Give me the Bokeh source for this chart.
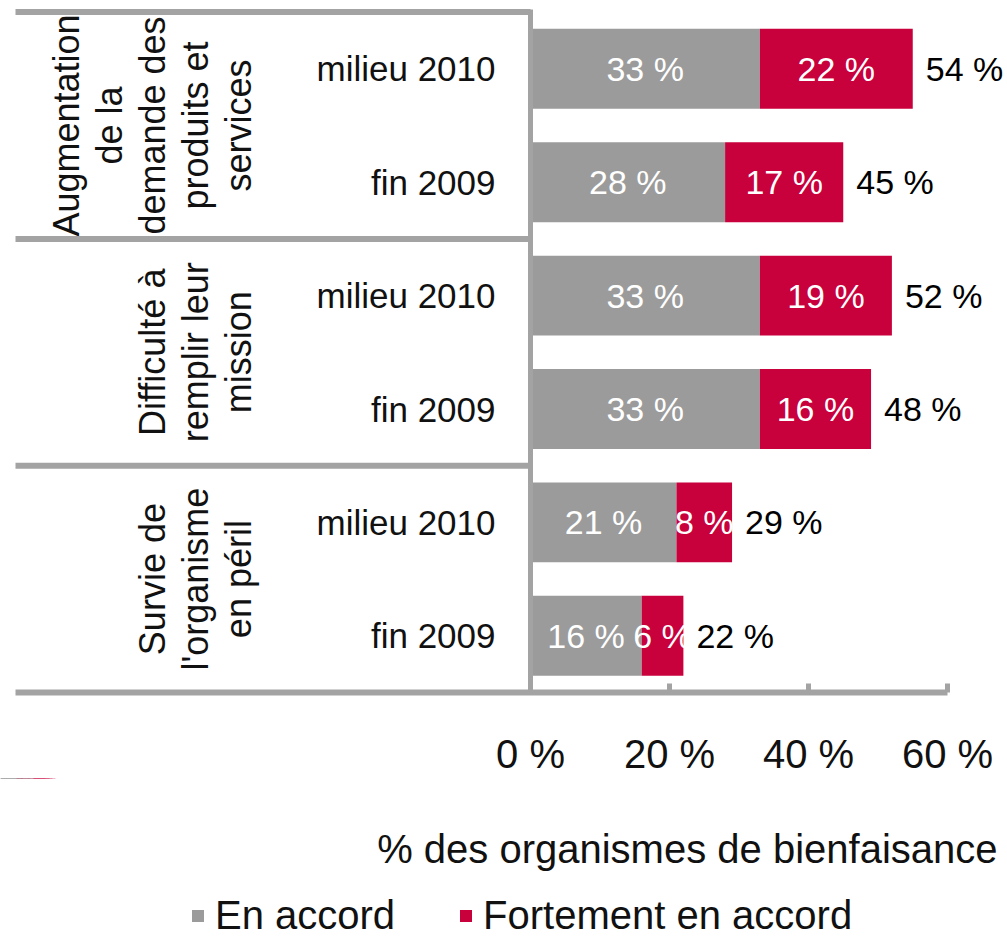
import math
from bokeh.plotting import figure
from bokeh.layouts import column
from bokeh.models import (Range1d, FixedTicker, LinearAxis, Legend, LegendItem,
                          ColumnDataSource)
from bokeh.core.properties import value
from bokeh.embed import file_html
from bokeh.resources import INLINE

# ---------------- data ----------------
group_labels = [
    ["Augmentation", "de la", "demande des", "produits et", "services"],
    ["Difficulté à", "remplir leur", "mission"],
    ["Survie de", "l'organisme", "en péril"],
]
periods = ["milieu 2010", "fin 2009", "milieu 2010", "fin 2009", "milieu 2010", "fin 2009"]
en_accord = [33, 28, 33, 33, 21, 16]
fortement = [22, 17, 19, 16, 8, 6]
total = [54, 45, 52, 48, 29, 22]
tick_values = [0, 20, 40, 60]
tick_labels = ["0 %", "20 %", "40 %", "60 %"]
series_names = ["En accord", "Fortement en accord"]
axis_title = "% des organismes de bienfaisance"

# ---------------- style / layout ----------------
FONT = "Liberation Sans"
GREY = "#9b9b9b"
LINE = "#a3a3a3"
RED = "#c8003c"
TXT = "#111111"
FRAME_W, FRAME_H = 1007, 692
PX_PER_PCT = 6.95
ZERO_PX = 530
n = len(periods)
slot_px = 113.4
x_start = -ZERO_PX / PX_PER_PCT
x_end = x_start + FRAME_W / PX_PER_PCT
y_bottom = n - 0.5
y_top = y_bottom - FRAME_H / slot_px
x_left_line = x_start + 15 / PX_PER_PCT

p = figure(frame_width=FRAME_W, frame_height=FRAME_H, output_backend="svg",
           toolbar_location=None, x_axis_type=None, y_axis_type=None,
           x_range=Range1d(x_start, x_end), y_range=Range1d(y_bottom, y_top),
           min_border=0)
p.outline_line_color = None

ys = list(range(n))
src = ColumnDataSource(dict(
    y=ys, en=en_accord, fo=fortement,
    end=[a + b for a, b in zip(en_accord, fortement)],
    mid_en=[a / 2 for a in en_accord],
    mid_fo=[a + b / 2 for a, b in zip(en_accord, fortement)],
    lab_en=[f"{v} %" for v in en_accord],
    lab_fo=[f"{v} %" for v in fortement],
    lab_tot=[f"{v} %" for v in total],
    period=periods,
))

p.hbar(y="y", left=0, right="en", height=0.705, fill_color=GREY,
       line_color=None, source=src)
p.hbar(y="y", left="en", right="end", height=0.705, fill_color=RED,
       line_color=None, source=src)

lbl_size = "34px"
p.text(x="mid_en", y="y", text="lab_en", source=src, text_color="white",
       text_align="center", text_baseline="middle", text_font=value(FONT),
       text_font_size=lbl_size)
p.text(x="mid_fo", y="y", text="lab_fo", source=src, text_color="white",
       text_align="center", text_baseline="middle", text_font=value(FONT),
       text_font_size=lbl_size)
p.text(x="end", y="y", text="lab_tot", source=src, text_color="black",
       x_offset=13, text_align="left", text_baseline="middle",
       text_font=value(FONT), text_font_size=lbl_size)
p.text(x=0, y="y", text="period", source=src, text_color=TXT,
       x_offset=-35, text_align="right", text_baseline="middle",
       text_font=value(FONT), text_font_size="35px")

# group labels (rotated, one glyph per line)
gx, gy, gt, goff = [], [], [], []
for g, lines in enumerate(group_labels):
    yc = 2 * g + 0.5
    k = len(lines)
    for i, t in enumerate(lines):
        gx.append(x_start)
        gy.append(yc)
        gt.append(t)
        goff.append(238 - (k - 1 - i) * 43)
gsrc = ColumnDataSource(dict(x=gx, y=gy, t=gt, off=goff))
p.text(x="x", y="y", text="t", x_offset="off", source=gsrc, angle=math.pi / 2,
       text_color=TXT, text_align="center", text_baseline="middle",
       text_font=value(FONT), text_font_size="36px")

# separators and vertical axis line
sep_y = [-0.5] + [2 * g + 1.5 for g in range(len(group_labels) - 1)]
p.segment(x0=[x_left_line] * len(sep_y), x1=[0] * len(sep_y), y0=sep_y, y1=sep_y,
          line_color=LINE, line_width=6)
p.segment(x0=[0], x1=[0], y0=[-0.5], y1=[y_bottom], line_color=LINE,
          line_width=5, line_cap="square")

# x axis
ax = LinearAxis(ticker=FixedTicker(ticks=tick_values),
                major_label_overrides={v: l for v, l in zip(tick_values, tick_labels)},
                bounds=(x_left_line, tick_values[-1]))
ax.axis_line_color = LINE
ax.axis_line_width = 6
ax.major_tick_line_color = LINE
ax.major_tick_line_width = 5
ax.major_tick_in = 9
ax.major_tick_out = 0
ax.minor_tick_line_color = None
ax.major_label_standoff = 39
ax.major_label_text_font = FONT
ax.major_label_text_font_size = "40px"
ax.major_label_text_color = TXT
p.add_layout(ax, "below")

# ---------------- axis title + legend strip ----------------
STRIP_H = 155
Y_SHIFT = 20   # keeps the legend proxies well outside the strip's range
p2 = figure(width=FRAME_W, height=STRIP_H, output_backend="svg",
            toolbar_location=None, x_axis_type=None, y_axis_type=None,
            x_range=Range1d(0, FRAME_W),
            y_range=Range1d(-STRIP_H - Y_SHIFT, -Y_SHIFT),
            min_border=0)
p2.outline_line_color = None

# proxies for the legend (outside the strip's visible range)
l_en = p2.hbar(y="y", left=0, right="en", height=0.705, fill_color=GREY,
               line_color=None, source=src)
l_fo = p2.hbar(y="y", left="en", right="end", height=0.705, fill_color=RED,
               line_color=None, source=src)

p2.text(x=[FRAME_W - 10], y=[-Y_SHIFT - 70], text=[axis_title], text_color=TXT,
        text_align="right", text_baseline="middle", text_font=value(FONT),
        text_font_size="40px")

leg = Legend(items=[LegendItem(label=series_names[0], renderers=[l_en]),
                    LegendItem(label=series_names[1], renderers=[l_fo])],
             orientation="horizontal", location=(190, -5),
             label_text_font=FONT, label_text_font_size="40px",
             label_text_color=TXT, glyph_width=15, glyph_height=15,
             label_standoff=10, spacing=63, padding=0, margin=0,
             border_line_color=None, background_fill_alpha=0)
p2.add_layout(leg)

layout = column(p, p2, spacing=0)
open("out.html", "w").write(file_html(layout, INLINE))
